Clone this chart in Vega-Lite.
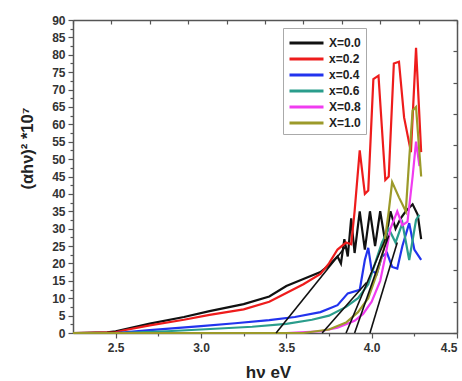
{
  "$schema": "https://vega.github.io/schema/vega-lite/v6.json",
  "autosize": "none",
  "width": 384,
  "height": 313,
  "padding": {"left": 73, "top": 20, "right": 5, "bottom": 48},
  "background": "white",
  "config": {
    "view": {"stroke": null},
    "axis": {"grid": false, "domainColor": "#555", "domainWidth": 1.5, "tickColor": "#555", "tickWidth": 1.2, "labelFont": "Liberation Sans", "labelFontWeight": "bold", "labelFontSize": 12, "labelColor": "#333", "titleFont": "Liberation Sans", "titleFontWeight": "bold", "titleColor": "#222"}
  },
  "datasets": {
    "series": [
      {"x": 2.25, "y": 0, "s": "X=0.0"}, {"x": 2.45, "y": 0.2, "s": "X=0.0"}, {"x": 2.5, "y": 0.5, "s": "X=0.0"}, {"x": 2.7, "y": 2.7, "s": "X=0.0"}, {"x": 2.9, "y": 4.6, "s": "X=0.0"}, {"x": 3.05, "y": 6.3, "s": "X=0.0"}, {"x": 3.25, "y": 8.3, "s": "X=0.0"}, {"x": 3.4, "y": 10.5, "s": "X=0.0"}, {"x": 3.5, "y": 13.5, "s": "X=0.0"}, {"x": 3.6, "y": 15.5, "s": "X=0.0"}, {"x": 3.7, "y": 17.5, "s": "X=0.0"}, {"x": 3.75, "y": 19.5, "s": "X=0.0"}, {"x": 3.8, "y": 22, "s": "X=0.0"}, {"x": 3.82, "y": 20, "s": "X=0.0"}, {"x": 3.84, "y": 27, "s": "X=0.0"}, {"x": 3.86, "y": 22, "s": "X=0.0"}, {"x": 3.88, "y": 33, "s": "X=0.0"}, {"x": 3.9, "y": 23, "s": "X=0.0"}, {"x": 3.93, "y": 35, "s": "X=0.0"}, {"x": 3.96, "y": 24, "s": "X=0.0"}, {"x": 3.99, "y": 35, "s": "X=0.0"}, {"x": 4.02, "y": 25, "s": "X=0.0"}, {"x": 4.05, "y": 35, "s": "X=0.0"}, {"x": 4.08, "y": 26, "s": "X=0.0"}, {"x": 4.11, "y": 35, "s": "X=0.0"}, {"x": 4.14, "y": 30, "s": "X=0.0"}, {"x": 4.17, "y": 33, "s": "X=0.0"}, {"x": 4.2, "y": 35, "s": "X=0.0"}, {"x": 4.24, "y": 37, "s": "X=0.0"}, {"x": 4.27, "y": 34, "s": "X=0.0"}, {"x": 4.29, "y": 27, "s": "X=0.0"},
      {"x": 2.25, "y": 0, "s": "x=0.2"}, {"x": 2.5, "y": 0.2, "s": "x=0.2"}, {"x": 2.55, "y": 0.8, "s": "x=0.2"}, {"x": 2.7, "y": 2.2, "s": "x=0.2"}, {"x": 2.9, "y": 3.8, "s": "x=0.2"}, {"x": 3.05, "y": 5.2, "s": "x=0.2"}, {"x": 3.25, "y": 6.8, "s": "x=0.2"}, {"x": 3.4, "y": 9, "s": "x=0.2"}, {"x": 3.5, "y": 11.5, "s": "x=0.2"}, {"x": 3.6, "y": 14, "s": "x=0.2"}, {"x": 3.7, "y": 17, "s": "x=0.2"}, {"x": 3.75, "y": 20, "s": "x=0.2"}, {"x": 3.8, "y": 24, "s": "x=0.2"}, {"x": 3.85, "y": 26, "s": "x=0.2"}, {"x": 3.88, "y": 25.5, "s": "x=0.2"}, {"x": 3.9, "y": 35, "s": "x=0.2"}, {"x": 3.93, "y": 52.5, "s": "x=0.2"}, {"x": 3.96, "y": 40, "s": "x=0.2"}, {"x": 3.98, "y": 41, "s": "x=0.2"}, {"x": 4.01, "y": 73, "s": "x=0.2"}, {"x": 4.04, "y": 74, "s": "x=0.2"}, {"x": 4.08, "y": 44, "s": "x=0.2"}, {"x": 4.1, "y": 45, "s": "x=0.2"}, {"x": 4.13, "y": 77.5, "s": "x=0.2"}, {"x": 4.16, "y": 78, "s": "x=0.2"}, {"x": 4.19, "y": 62, "s": "x=0.2"}, {"x": 4.23, "y": 52, "s": "x=0.2"}, {"x": 4.26, "y": 82, "s": "x=0.2"}, {"x": 4.29, "y": 52, "s": "x=0.2"},
      {"x": 2.25, "y": 0, "s": "x=0.4"}, {"x": 2.5, "y": 0, "s": "x=0.4"}, {"x": 2.7, "y": 0.8, "s": "x=0.4"}, {"x": 3.0, "y": 2.0, "s": "x=0.4"}, {"x": 3.2, "y": 2.8, "s": "x=0.4"}, {"x": 3.4, "y": 3.7, "s": "x=0.4"}, {"x": 3.55, "y": 4.6, "s": "x=0.4"}, {"x": 3.7, "y": 6, "s": "x=0.4"}, {"x": 3.8, "y": 8, "s": "x=0.4"}, {"x": 3.86, "y": 11.4, "s": "x=0.4"}, {"x": 3.93, "y": 12.4, "s": "x=0.4"}, {"x": 3.96, "y": 21, "s": "x=0.4"}, {"x": 3.98, "y": 24.5, "s": "x=0.4"}, {"x": 4.0, "y": 18, "s": "x=0.4"}, {"x": 4.03, "y": 17, "s": "x=0.4"}, {"x": 4.06, "y": 22, "s": "x=0.4"}, {"x": 4.09, "y": 23, "s": "x=0.4"}, {"x": 4.12, "y": 19, "s": "x=0.4"}, {"x": 4.15, "y": 18.5, "s": "x=0.4"}, {"x": 4.18, "y": 25, "s": "x=0.4"}, {"x": 4.22, "y": 31.6, "s": "x=0.4"}, {"x": 4.25, "y": 24, "s": "x=0.4"}, {"x": 4.29, "y": 21, "s": "x=0.4"},
      {"x": 2.25, "y": 0, "s": "x=0.6"}, {"x": 2.5, "y": 0, "s": "x=0.6"}, {"x": 2.8, "y": 0.5, "s": "x=0.6"}, {"x": 3.0, "y": 1, "s": "x=0.6"}, {"x": 3.3, "y": 1.8, "s": "x=0.6"}, {"x": 3.5, "y": 2.6, "s": "x=0.6"}, {"x": 3.65, "y": 3.8, "s": "x=0.6"}, {"x": 3.75, "y": 5, "s": "x=0.6"}, {"x": 3.85, "y": 7.5, "s": "x=0.6"}, {"x": 3.92, "y": 10, "s": "x=0.6"}, {"x": 3.98, "y": 14, "s": "x=0.6"}, {"x": 4.02, "y": 20, "s": "x=0.6"}, {"x": 4.06, "y": 26, "s": "x=0.6"}, {"x": 4.1, "y": 30, "s": "x=0.6"}, {"x": 4.14, "y": 26, "s": "x=0.6"}, {"x": 4.18, "y": 31.6, "s": "x=0.6"}, {"x": 4.22, "y": 21, "s": "x=0.6"}, {"x": 4.26, "y": 32.5, "s": "x=0.6"}, {"x": 4.28, "y": 34, "s": "x=0.6"},
      {"x": 2.25, "y": 0, "s": "X=0.8"}, {"x": 3.5, "y": 0, "s": "X=0.8"}, {"x": 3.7, "y": 0.5, "s": "X=0.8"}, {"x": 3.8, "y": 1.5, "s": "X=0.8"}, {"x": 3.9, "y": 3.5, "s": "X=0.8"}, {"x": 3.95, "y": 5.5, "s": "X=0.8"}, {"x": 4.0, "y": 9, "s": "X=0.8"}, {"x": 4.05, "y": 15, "s": "X=0.8"}, {"x": 4.08, "y": 22, "s": "X=0.8"}, {"x": 4.11, "y": 30, "s": "X=0.8"}, {"x": 4.15, "y": 35, "s": "X=0.8"}, {"x": 4.18, "y": 31, "s": "X=0.8"}, {"x": 4.21, "y": 32, "s": "X=0.8"}, {"x": 4.24, "y": 45, "s": "X=0.8"}, {"x": 4.26, "y": 55, "s": "X=0.8"}, {"x": 4.28, "y": 48, "s": "X=0.8"},
      {"x": 2.25, "y": 0, "s": "X=1.0"}, {"x": 3.6, "y": 0, "s": "X=1.0"}, {"x": 3.75, "y": 1, "s": "X=1.0"}, {"x": 3.85, "y": 3, "s": "X=1.0"}, {"x": 3.92, "y": 6, "s": "X=1.0"}, {"x": 3.98, "y": 10, "s": "X=1.0"}, {"x": 4.03, "y": 17, "s": "X=1.0"}, {"x": 4.07, "y": 24, "s": "X=1.0"}, {"x": 4.1, "y": 35, "s": "X=1.0"}, {"x": 4.12, "y": 43.4, "s": "X=1.0"}, {"x": 4.16, "y": 39, "s": "X=1.0"}, {"x": 4.2, "y": 35, "s": "X=1.0"}, {"x": 4.22, "y": 50, "s": "X=1.0"}, {"x": 4.24, "y": 64, "s": "X=1.0"}, {"x": 4.26, "y": 65, "s": "X=1.0"}, {"x": 4.29, "y": 45, "s": "X=1.0"}
    ],
    "tangents": [
      {"x": 3.44, "y": 0, "t": "a"}, {"x": 3.85, "y": 25, "t": "a"},
      {"x": 3.71, "y": 0, "t": "b"}, {"x": 3.97, "y": 14.5, "t": "b"},
      {"x": 3.85, "y": 0, "t": "c"}, {"x": 4.08, "y": 27, "t": "c"},
      {"x": 3.9, "y": 0, "t": "d"}, {"x": 4.1, "y": 28, "t": "d"},
      {"x": 3.99, "y": 0, "t": "e"}, {"x": 4.15, "y": 26, "t": "e"}
    ]
  },
  "layer": [
    {
      "data": {"name": "series"},
      "mark": {"type": "line", "strokeWidth": 2.2},
      "encoding": {
        "x": {"field": "x", "type": "quantitative", "scale": {"domain": [2.25, 4.5], "nice": false, "zero": false},
              "axis": {"orient": "bottom", "values": [2.5, 3.0, 3.5, 4.0, 4.5], "format": ".1f", "title": "hν eV", "titleFontSize": 17, "titleX": 195, "titleY": 39, "titleAlign": "center", "titleBaseline": "middle", "labelPadding": 4, "tickSize": 5}},
        "y": {"field": "y", "type": "quantitative", "scale": {"domain": [0, 90], "nice": false},
              "axis": {"orient": "left", "values": [0,5,10,15,20,25,30,35,40,45,50,55,60,65,70,75,80,85,90], "title": "(αhν)² *10⁷", "titleFontSize": 16.5, "titleAngle": -90, "titleBaseline": "middle", "titleAlign": "center", "titleX": -46, "titleY": 128, "labelPadding": 3, "tickSize": 5}},
        "color": {"field": "s", "type": "nominal", "sort": ["X=0.0", "x=0.2", "x=0.4", "x=0.6", "X=0.8", "X=1.0"],
                  "scale": {"domain": ["X=0.0", "x=0.2", "x=0.4", "x=0.6", "X=0.8", "X=1.0"], "range": ["#111111", "#ee1c1c", "#2233ee", "#2a9d8c", "#f03cf0", "#9c9a2a"]},
                  "legend": {"orient": "none", "legendX": 210, "legendY": 8, "title": null, "symbolType": "M-1,0H3", "symbolSize": 289, "symbolStrokeWidth": 3, "labelFont": "Liberation Sans", "labelFontWeight": "bold", "labelFontSize": 12, "labelColor": "#222", "strokeColor": "#aaa", "padding": 5, "rowPadding": 0, "labelOffset": 21}}
      }
    },
    {
      "data": {"name": "tangents"},
      "mark": {"type": "line", "strokeWidth": 1.6, "color": "#111"},
      "encoding": {
        "x": {"field": "x", "type": "quantitative", "axis": {"orient": "top", "values": [2.25, 2.475, 2.7, 2.925, 3.15, 3.375, 3.6, 3.825, 4.05, 4.275, 4.5], "labels": false, "title": null, "tickSize": -4}},
        "y": {"field": "y", "type": "quantitative", "axis": {"orient": "right", "values": [0, 9, 18, 27, 36, 45, 54, 63, 72, 81, 90], "labels": false, "title": null, "tickSize": -4}},
        "detail": {"field": "t", "type": "nominal"}
      }
    },
    {
      "data": {"name": "tangents"},
      "mark": {"type": "line", "opacity": 0},
      "encoding": {
        "x": {"field": "x", "type": "quantitative", "axis": {"orient": "bottom", "values": [2.75, 3.25, 3.75, 4.25], "labels": false, "title": null, "domain": false, "tickSize": 3}},
        "y": {"field": "y", "type": "quantitative", "axis": {"orient": "left", "values": [2.5, 7.5, 12.5, 17.5, 22.5, 27.5, 32.5, 37.5, 42.5, 47.5, 52.5, 57.5, 62.5, 67.5, 72.5, 77.5, 82.5, 87.5], "labels": false, "title": null, "domain": false, "tickSize": 3}},
        "detail": {"field": "t", "type": "nominal"}
      }
    }
  ],
  "resolve": {"axis": {"x": "independent", "y": "independent"}}
}
